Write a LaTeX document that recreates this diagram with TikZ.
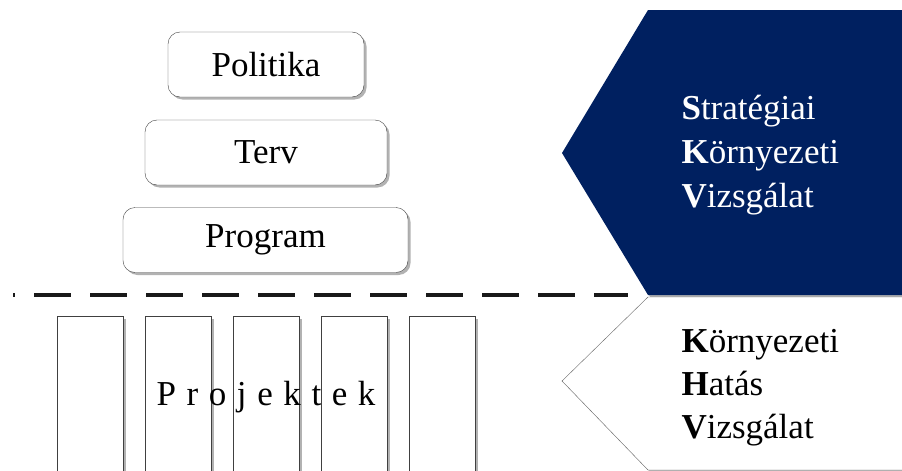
\documentclass[tikz,border=0pt]{standalone}
\usepackage{fontspec}
\setmainfont{Liberation Serif}
\usetikzlibrary{shadows}
\definecolor{skvblue}{HTML}{002060}
\tikzset{
    shade/.style={drop shadow={shadow xshift=2.5pt, shadow yshift=-2.5pt, fill=black, opacity=0.3}},
    big/.style={font=\fontsize{35}{42}\selectfont}
}

\begin{document}
\begin{tikzpicture}[x=1pt,y=-1pt]
    \clip (0,0) rectangle (902,471);
    \fill[white] (0,0) rectangle (902,471);
    % separator
    \coordinate (sepL) at (13,295);
    \coordinate (sepR) at (628,295);
    \draw[line width=3.4pt, black!90, dash pattern=on 37pt off 19pt, dash phase=35pt] (sepL) -- (sepR);
    % pyramid of plans
    \begin{scope}[every node/.style={big, draw=black!75, fill=white, rounded corners=12pt, minimum height=65pt, shade}]
        \node[minimum width=196pt] (pol) at (266,64.5) {Politika};
        \node[minimum width=242pt] (terv) at (266,152.5) {Terv};
        \node[minimum width=285pt] (prog) at (265.5,240) {Program};
    \end{scope}
    % projects
    \begin{scope}[every node/.style={draw=black!75, fill=white, minimum width=66pt, minimum height=170pt, shade}]
        \foreach \i in {0,...,4}
            \node (p\i) at (90+88*\i,401) {};
    \end{scope}
    \node[font={\fontsize{35}{42}\selectfont\spaceskip=10.6pt}, anchor=base] (proj) at (266,405) {P r o j e k t e k};
    % SKV and KHV
    \fill[skvblue, shade] (910,10) -- (648,10) -- (562,153) -- (648,295) -- (910,295) -- cycle;
    \draw[black!60, fill=white, shade] (910,297) -- (648,297) -- (562,381) -- (648,470) -- (910,470) -- cycle;
    \begin{scope}[every node/.style={big, anchor=base west}]
        \node[white] (s1) at (678,119) {\textbf{S}tratégiai};
        \node[white] (s2) at (678,163) {\textbf{K}örnyezeti};
        \node[white] (s3) at (678,207) {\textbf{V}izsgálat};
        \node (k1) at (678,352) {\textbf{K}örnyezeti};
        \node (k2) at (678,395) {\textbf{H}atás};
        \node (k3) at (678,438) {\textbf{V}izsgálat};
    \end{scope}
\end{tikzpicture}
\end{document}
